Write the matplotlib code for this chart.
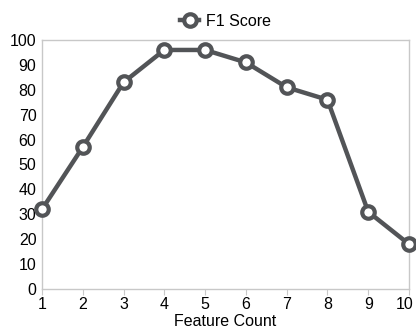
import matplotlib
matplotlib.use("Agg")
import matplotlib.pyplot as plt
import matplotlib.transforms as mtransforms

plt.rcParams['font.family'] = ['Liberation Sans', 'DejaVu Sans']

features = [1, 2, 3, 4, 5, 6, 7, 8, 9, 10]
f1_scores = [32, 57, 83, 96, 96, 91, 81, 76, 31, 18]
yticks = [0, 10, 20, 30, 40, 50, 60, 70, 80, 90, 100]

color = '#525457'
fig = plt.figure(figsize=(4.16, 3.31), dpi=100)
ax = fig.add_axes([42/416, 1 - 289/331, (409-42)/416, (289-40)/331])
ax.plot(features, f1_scores, color=color, lw=3.2, marker='o', ms=9,
        mfc='white', mec=color, mew=3, label='F1 Score', clip_on=False, zorder=3)
ax.set_xlim(1, 10)
ax.set_ylim(0, 100)
ax.set_xticks(features)
ax.set_yticks(yticks)
for s in ax.spines.values():
    s.set_color('#c8c8c8')
    s.set_linewidth(1)
ax.tick_params(axis='x', length=4, color='#c8c8c8', labelsize=11.5, pad=2)
ax.tick_params(axis='y', length=0, labelsize=11.5, pad=4)
ax.set_xlabel('Feature Count', fontsize=11.5, labelpad=1)
last = ax.get_xticklabels()[-1]
last.set_transform(last.get_transform() +
                   mtransforms.ScaledTranslation(-4/100, 0, fig.dpi_scale_trans))
leg = ax.legend(loc='lower center', bbox_to_anchor=(0.5, 1.0), frameon=False,
                fontsize=11.5, handlelength=1.2, handletextpad=0.4, borderaxespad=0.3)
fig.savefig('out.png', dpi=100)
